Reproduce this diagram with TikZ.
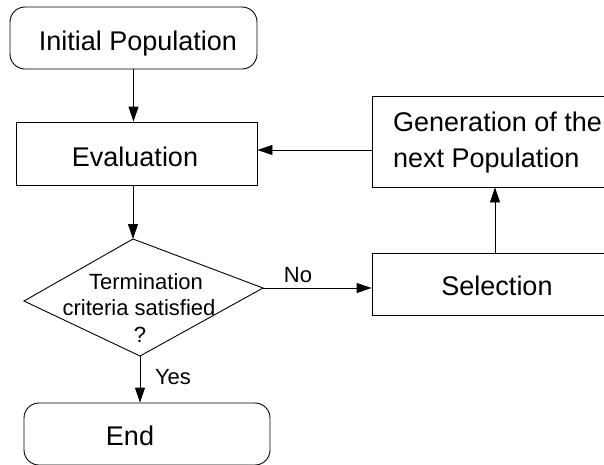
\documentclass[tikz,border=0pt]{standalone}
\usepackage{fontspec}
\setmainfont{Liberation Sans}
\usetikzlibrary{arrows.meta}
\begin{document}
\begin{tikzpicture}[x=1pt,y=-1pt,
  box/.style={draw,line width=0.9pt,inner sep=0pt,minimum width=#1},
  rbox/.style={box=#1,rounded corners=15pt},
  big/.style={font=\fontsize{27}{32}\selectfont,inner sep=0pt,anchor=base},
  small/.style={font=\fontsize{22}{26}\selectfont,inner sep=0pt,anchor=base},
  arr/.style={line width=0.9pt,-{Triangle[length=15pt,width=10pt]}}]
\useasboundingbox (0,0) rectangle (604,464);
\clip (0,0) rectangle (604,464);
% boxes
\node[rbox=247pt,minimum height=62pt] (init) at (133.5,38) {};
\node[box=241pt,minimum height=63pt] (eval) at (136.5,153.5) {};
\node[box=250pt,minimum height=91pt] (gen) at (497,141.5) {};
\node[box=250pt,minimum height=62pt] (sel) at (497,284) {};
\node[rbox=246pt,minimum height=62pt] (end) at (147,434) {};
% diamond
\coordinate (dT) at (133,239);
\coordinate (dR) at (263,288);
\coordinate (dB) at (140,356);
\coordinate (dL) at (24,301);
\draw[line width=0.9pt] (dT) -- (dR) -- (dB) -- (dL) -- cycle;
% texts
\node[big] (tinit) at (138,50) {Initial Population};
\node[big] (teval) at (135,166) {Evaluation};
\node[big,anchor=base west] (tgen1) at (393,131) {Generation of the};
\node[big,anchor=base west] (tgen2) at (393,167) {next Population};
\node[big] (tsel) at (497,295) {Selection};
\node[big] (tend) at (130,445) {End};
\node[small] (tq1) at (146,289) {Termination};
\node[small] (tq2) at (139,315) {criteria satisfied};
\node[small] (tq3) at (140,342) {?};
\node[small] (tno) at (298,282) {No};
\node[small] (tyes) at (173,384) {Yes};
% connectors
\draw[arr] (init.south) -- (init.south |- eval.north);
\draw[arr] (eval.south -| dT) -- (dT);
\draw[arr] (dB) -- (dB |- end.north);
\draw[arr] (dR) -- (dR -| sel.west);
\draw[arr] (sel.north -| 495,0) -- (gen.south -| 495,0);
\draw[arr] (gen.west |- 0,150) -- (eval.east |- 0,150);
\end{tikzpicture}
\end{document}
